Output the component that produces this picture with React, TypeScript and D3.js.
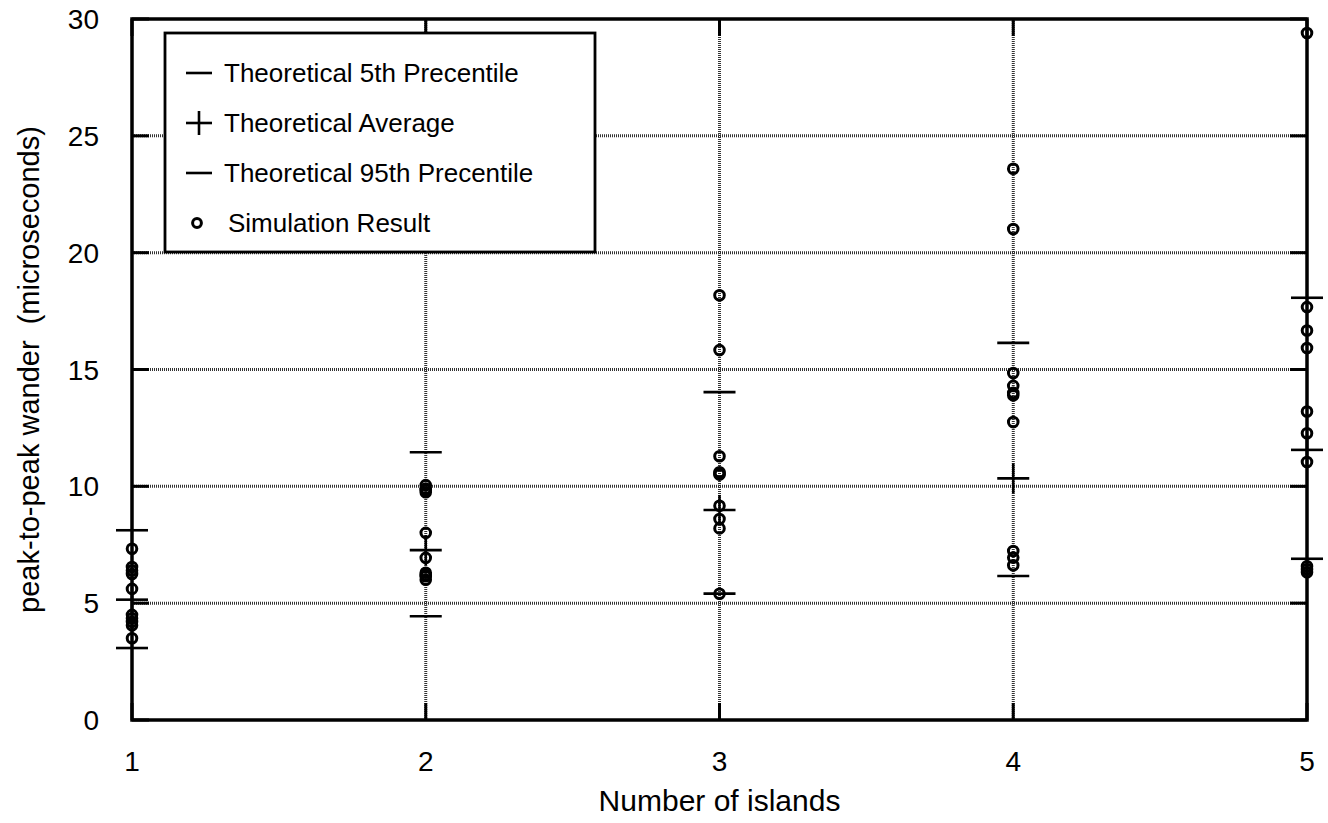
import React from "react";
import * as d3 from "d3";

// x categories (number of islands)
const islands = [1, 2, 3, 4, 5];
const yTicks = [0, 5, 10, 15, 20, 25, 30];

// theoretical values per island count
const p5 = [3.08, 4.44, 5.41, 6.16, 6.9];
const avg = [5.15, 7.27, 8.99, 10.34, 11.56];
const p95 = [8.12, 11.46, 14.03, 16.14, 18.07];

// simulation results, one list per island count
const sim1 = [7.33, 6.55, 6.4, 6.25, 5.61, 4.5, 4.35, 4.2, 4.05, 3.5];
const sim2 = [10.05, 9.9, 9.75, 8.01, 6.94, 6.3, 6.15, 6.0, 6.2, 9.85];
const sim3 = [18.18, 15.83, 11.29, 10.6, 10.5, 9.17, 8.6, 8.2, 5.4, 10.55];
const sim4 = [23.59, 21.01, 14.85, 14.3, 14.0, 13.9, 12.75, 7.23, 6.95, 6.62];
const sim5 = [29.4, 17.67, 16.67, 15.92, 13.2, 12.27, 11.04, 6.58, 6.32, 6.45];
const simulations = [sim1, sim2, sim3, sim4, sim5];

const legendItems = [
  { label: "Theoretical 5th Precentile", kind: "dash" },
  { label: "Theoretical Average", kind: "plus" },
  { label: "Theoretical 95th Precentile", kind: "dash" },
  { label: "Simulation Result", kind: "circle" },
];

const width = 1328;
const height = 823;
const font = "'Liberation Sans', Arial, Helvetica, sans-serif";

const App = () => {
  const x = d3.scaleLinear().domain([1, 5]).range([132, 1307]);
  const y = d3.scaleLinear().domain([0, 30]).range([720, 19]);
  const [x0, x1] = x.range();
  const [y0, y1] = y.range();
  const tickLen = 17;
  const half = 16;

  const dash = (cx, cy, w, key) => (
    <line key={key} x1={cx - w} x2={cx + w} y1={cy} y2={cy} stroke="#000" strokeWidth={2.6} />
  );
  const plus = (cx, cy, w, h, key) => (
    <g key={key}>
      <line x1={cx - w} x2={cx + w} y1={cy} y2={cy} stroke="#000" strokeWidth={2.6} />
      <line x1={cx} x2={cx} y1={cy - h} y2={cy + h} stroke="#000" strokeWidth={2.6} />
    </g>
  );

  return (
    <svg
      width={width}
      height={height}
      style={{ position: "absolute", left: 0, top: 0, background: "#fff" }}
      fontFamily={font}
    >
      {/* grid */}
      {yTicks.slice(1, -1).map((t) => (
        <line key={"gy" + t} x1={x0} x2={x1} y1={y(t)} y2={y(t)} stroke="#333" strokeWidth={3} strokeDasharray="1 1" />
      ))}
      {islands.slice(1, -1).map((t) => (
        <line key={"gx" + t} x1={x(t)} x2={x(t)} y1={y0} y2={y1} stroke="#333" strokeWidth={3} strokeDasharray="1 1" />
      ))}

      {/* inward ticks */}
      {yTicks.map((t) => (
        <g key={"ty" + t}>
          <line x1={x0} x2={x0 + tickLen} y1={y(t)} y2={y(t)} stroke="#000" strokeWidth={3} />
          <line x1={x1 - tickLen} x2={x1} y1={y(t)} y2={y(t)} stroke="#000" strokeWidth={3} />
        </g>
      ))}
      {islands.map((t) => (
        <g key={"tx" + t}>
          <line x1={x(t)} x2={x(t)} y1={y0} y2={y0 - tickLen} stroke="#000" strokeWidth={3} />
          <line x1={x(t)} x2={x(t)} y1={y1} y2={y1 + tickLen} stroke="#000" strokeWidth={3} />
        </g>
      ))}

      {/* frame */}
      <rect x={x0} y={y1} width={x1 - x0} height={y0 - y1} fill="none" stroke="#000" strokeWidth={3.5} />

      {/* tick labels */}
      {yTicks.map((t) => (
        <text key={"ly" + t} x={99} y={y(t)} dy="0.36em" textAnchor="end" fontSize={28}>
          {t}
        </text>
      ))}
      {islands.map((t) => (
        <text key={"lx" + t} x={x(t)} y={771} textAnchor="middle" fontSize={28}>
          {t}
        </text>
      ))}

      {/* axis titles */}
      <text x={(x0 + x1) / 2} y={811} textAnchor="middle" fontSize={30}>
        Number of islands
      </text>
      <text
        transform={`translate(39, ${(y0 + y1) / 2}) rotate(-90)`}
        textAnchor="middle"
        fontSize={29}
        style={{ whiteSpace: "pre" }}
      >
        {"peak-to-peak wander  (microseconds)"}
      </text>

      {/* theoretical markers */}
      {islands.map((d, i) => dash(x(d), y(p5[i]), half, "p5" + i))}
      {islands.map((d, i) => dash(x(d), y(p95[i]), half, "p95" + i))}
      {islands.map((d, i) => plus(x(d), y(avg[i]), half, 15, "avg" + i))}

      {/* simulation results */}
      {simulations.map((vals, i) =>
        vals.map((v, j) => (
          <circle key={`s${i}-${j}`} cx={x(islands[i])} cy={y(v)} r={4.8} fill="none" stroke="#000" strokeWidth={3} />
        ))
      )}

      {/* legend */}
      <rect x={165} y={33} width={430} height={219} fill="#fff" stroke="#000" strokeWidth={2.8} />
      {legendItems.map((item, i) => {
        const cy = 73 + i * 50;
        return (
          <g key={"leg" + i}>
            {item.kind === "dash" && dash(199, cy, 13, "m")}
            {item.kind === "plus" && plus(199, cy, 13, 12, "m")}
            {item.kind === "circle" && (
              <circle cx={197} cy={cy} r={4.4} fill="none" stroke="#000" strokeWidth={3} />
            )}
            <text x={item.kind === "circle" ? 228 : 224} y={cy} dy="0.36em" fontSize={26}>
              {item.label}
            </text>
          </g>
        );
      })}
    </svg>
  );
};

export default App;
